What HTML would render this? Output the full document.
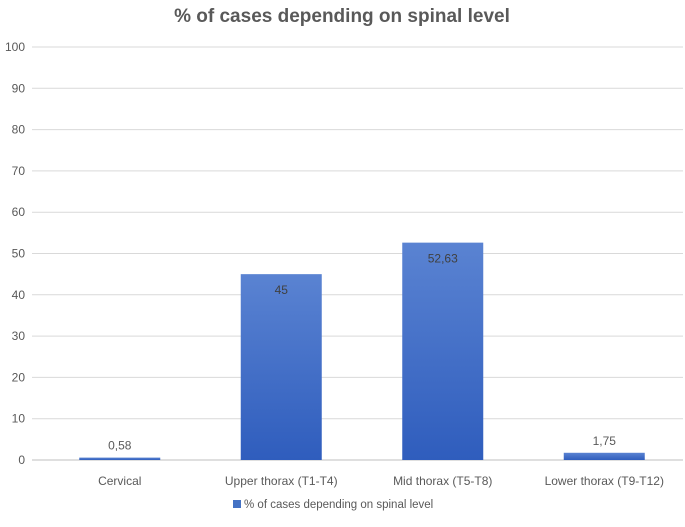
<!DOCTYPE html>
<html><head><meta charset="utf-8"><style>
body{margin:0;background:#fff;}
svg text{font-family:"Liberation Sans",sans-serif;fill:#595959;}
</style></head><body>
<svg width="685" height="522">
<defs><linearGradient id="g" x1="0" y1="0" x2="0" y2="1"><stop offset="0" stop-color="#5a83d2"/><stop offset="1" stop-color="#2f5dbd"/></linearGradient></defs>
<text x="342" y="22" text-anchor="middle" font-size="19" font-weight="bold">% of cases depending on spinal level</text>
<g id="grid"></g><g id="bars"></g>
<rect x="233" y="500" width="8" height="8" fill="#4472c4"/>
<text x="244" y="508" font-size="11.5">% of cases depending on spinal level</text>
</svg>
<script>
const categories=["Cervical","Upper thorax (T1-T4)","Mid thorax (T5-T8)","Lower thorax (T9-T12)"];
const values=[0.58,45,52.63,1.75];
const labels=["0,58","45","52,63","1,75"];
const ticks=[0,10,20,30,40,50,60,70,80,90,100];
const NS="http://www.w3.org/2000/svg";
const y0=460,y100=47,left=39,right=685;
const y=v=>y0-(y0-y100)*v/100;
const bw=(right-left)/categories.length;
const x=i=>left+bw*i+bw/2;
function mk(t,a,p){const e=document.createElementNS(NS,t);for(const k in a)e.setAttribute(k,a[k]);p.appendChild(e);return e;}
const grid=document.getElementById('grid'),bars=document.getElementById('bars');
ticks.forEach(t=>{
 const l=mk('line',{x1:32,x2:683,y1:y(t),y2:y(t),stroke:t===0?'#bfbfbf':'#d9d9d9','stroke-width':1},grid);
 
 
 const tx=mk('text',{x:25,y:y(t)+4,'text-anchor':'end','font-size':12},grid);tx.textContent=t;
 
 
});
categories.forEach((c,i)=>{
 const h=y0-y(values[i]);
 const r=mk('rect',{x:x(i)-40.5,y:y(values[i]),width:81,height:Math.max(h,1),fill:'url(#g)'},bars);
 
 
 const inside=values[i]>10;
 const lt=mk('text',{x:x(i),y:inside?y(values[i])+20:y(values[i])-8,'text-anchor':'middle','font-size':12},bars);
 if(inside)lt.style.fill='#404040';
 lt.textContent=labels[i];
 
 
 const ct=mk('text',{x:x(i),y:485,'text-anchor':'middle','font-size':12},bars);ct.textContent=c;
 
 
});
</script>
</body></html>
